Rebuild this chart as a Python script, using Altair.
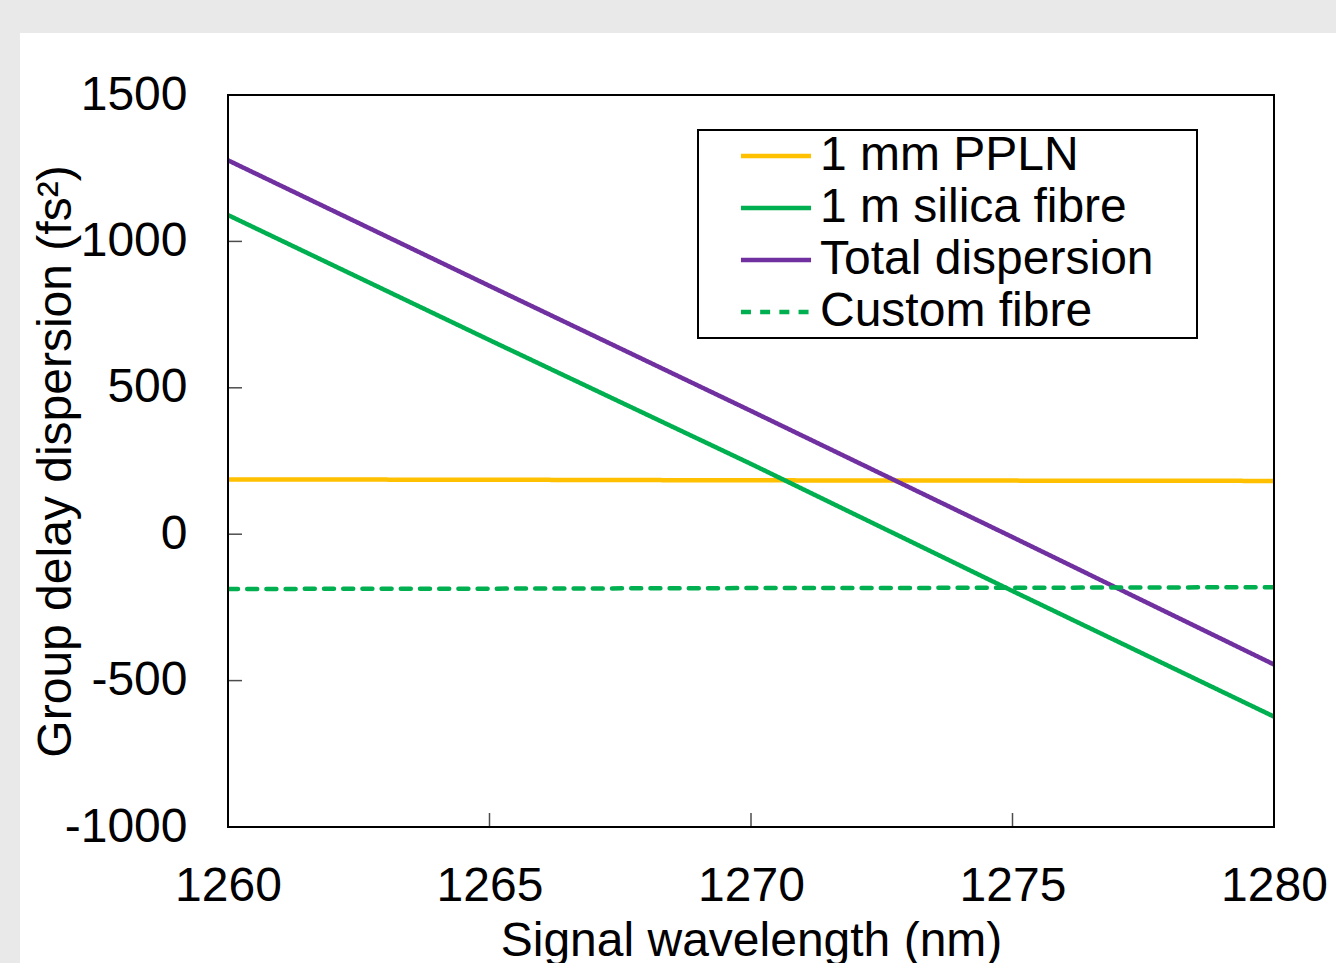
import altair as alt
import pandas as pd

# ---- data ----
wavelength = [1260, 1265, 1270, 1275, 1280]
pplN = [187, 186, 184, 183, 182]
silica = [1090, 663, 240, -194, -623]
total = [1277, 848, 421, -10, -445]
custom = [-187, -186, -184, -183, -181]

series_names = ["1 mm PPLN", "1 m silica fibre", "Total dispersion", "Custom fibre"]
series_colors = ["#FFC000", "#00B050", "#7030A0", "#00B050"]
series_dashes = [[1, 0], [1, 0], [1, 0], [10, 9.2]]

x_ticks = [1260, 1265, 1270, 1275, 1280]
y_ticks = [-1000, -500, 0, 500, 1000, 1500]
x_domain = [1260, 1280]
y_domain = [-1000, 1500]

rows = []
for name, vals in zip(series_names, [pplN, silica, total, custom]):
    for w, v in zip(wavelength, vals):
        rows.append({"series": name, "wl": w, "gdd": v})
df = pd.DataFrame(rows)

W, H = 1046, 732
PAD = {"left": 228, "top": 95, "right": 62, "bottom": 136}
FONT = "Liberation Sans"
FS = 48

xscale = alt.Scale(domain=x_domain, nice=False, zero=False)
yscale = alt.Scale(domain=y_domain, nice=False, zero=False)

x_title = "Signal wavelength (nm)"
y_title = "Group delay dispersion (fs²)"

x_axis = alt.Axis(values=x_ticks, ticks=False, tickSize=0, domain=False, grid=False,
                  labelFont=FONT, labelFontSize=FS, labelColor="black",
                  labelBaseline="alphabetic", labelPadding=73, labelFlush=False,
                  labelOverlap=False, labelExpr="'' + datum.value",
                  titleFont=FONT, titleFontSize=FS, titleFontWeight="normal",
                  titleColor="black", titleBaseline="alphabetic", titleAlign="center",
                  titleX=W / 2, titleY=128, zindex=1)
y_axis = alt.Axis(values=y_ticks, ticks=False, tickSize=0, domain=False, grid=False,
                  labelFont=FONT, labelFontSize=FS, labelColor="black",
                  labelBaseline="middle", labelPadding=41, labelFlush=False,
                  labelOverlap=False, labelExpr="'' + datum.value",
                  titleFont=FONT, titleFontSize=FS, titleFontWeight="normal",
                  titleColor="black", titleBaseline="alphabetic", titleAlign="center",
                  titleAngle=270, titleX=-158, titleY=H / 2, zindex=1)


def X(field):
    return alt.X(field, scale=xscale, axis=x_axis, title=x_title)


def Y(field):
    return alt.Y(field, scale=yscale, axis=y_axis, title=y_title)


# white panel behind the chart (page background is grey)
panel = alt.Chart(pd.DataFrame({"k": [0]})).mark_rect(color="white", clip=False).encode(
    x=alt.value(20 - PAD["left"]),
    x2=alt.value(W + PAD["right"]),
    y=alt.value(33 - PAD["top"]),
    y2=alt.value(H + PAD["bottom"]),
)

legend = alt.Legend(title="i", titleOrient="right", titleColor="white", titleFontSize=2,
                    titlePadding=40, orient="none", legendX=470, legendY=35)

lines = alt.Chart(df).mark_line(strokeWidth=4.5, strokeCap="round", clip=True).encode(
    x=X("wl:Q"),
    y=Y("gdd:Q"),
    color=alt.Color("series:N", scale=alt.Scale(domain=series_names, range=series_colors),
                    legend=legend),
    strokeDash=alt.StrokeDash("series:N", scale=alt.Scale(domain=series_names, range=series_dashes),
                              legend=legend),
)

frame_df = pd.DataFrame({"x0": [x_domain[0]], "x1": [x_domain[1]],
                         "y0": [y_domain[0]], "y1": [y_domain[1]]})
frame = alt.Chart(frame_df).mark_rect(fillOpacity=0, stroke="black", strokeWidth=2).encode(
    x=X("x0:Q"), x2="x1:Q", y=Y("y0:Q"), y2="y1:Q",
)

xt = alt.Chart(pd.DataFrame({"v": x_ticks, "b": [y_domain[0]] * len(x_ticks)})).mark_tick(
    orient="vertical", size=28, thickness=1.5, color="black", clip=True).encode(
    x=X("v:Q"), y=Y("b:Q"))

yt = alt.Chart(pd.DataFrame({"v": y_ticks, "l": [x_domain[0]] * len(y_ticks)})).mark_tick(
    orient="horizontal", size=28, thickness=1.5, color="black", clip=True).encode(
    x=X("l:Q"), y=Y("v:Q"))

chart = alt.layer(panel, xt, yt, lines, frame).properties(
    width=W, height=H, padding=PAD,
    autosize=alt.AutoSizeParams(type="none"),
).configure(background="#E8E9E8").configure_view(stroke="transparent").configure_legend(
    labelFont=FONT, labelFontSize=FS, labelColor="black", labelLimit=0,
    symbolType="M-1.63,0H1.63", symbolSize=1849, symbolStrokeWidth=4.5,
    padding=2, rowPadding=4, symbolOffset=52, labelOffset=20,
    strokeColor="black", fillColor="white", strokeWidth=2,
)

chart.save("out.html", embed_options={"renderer": "svg", "actions": False})
